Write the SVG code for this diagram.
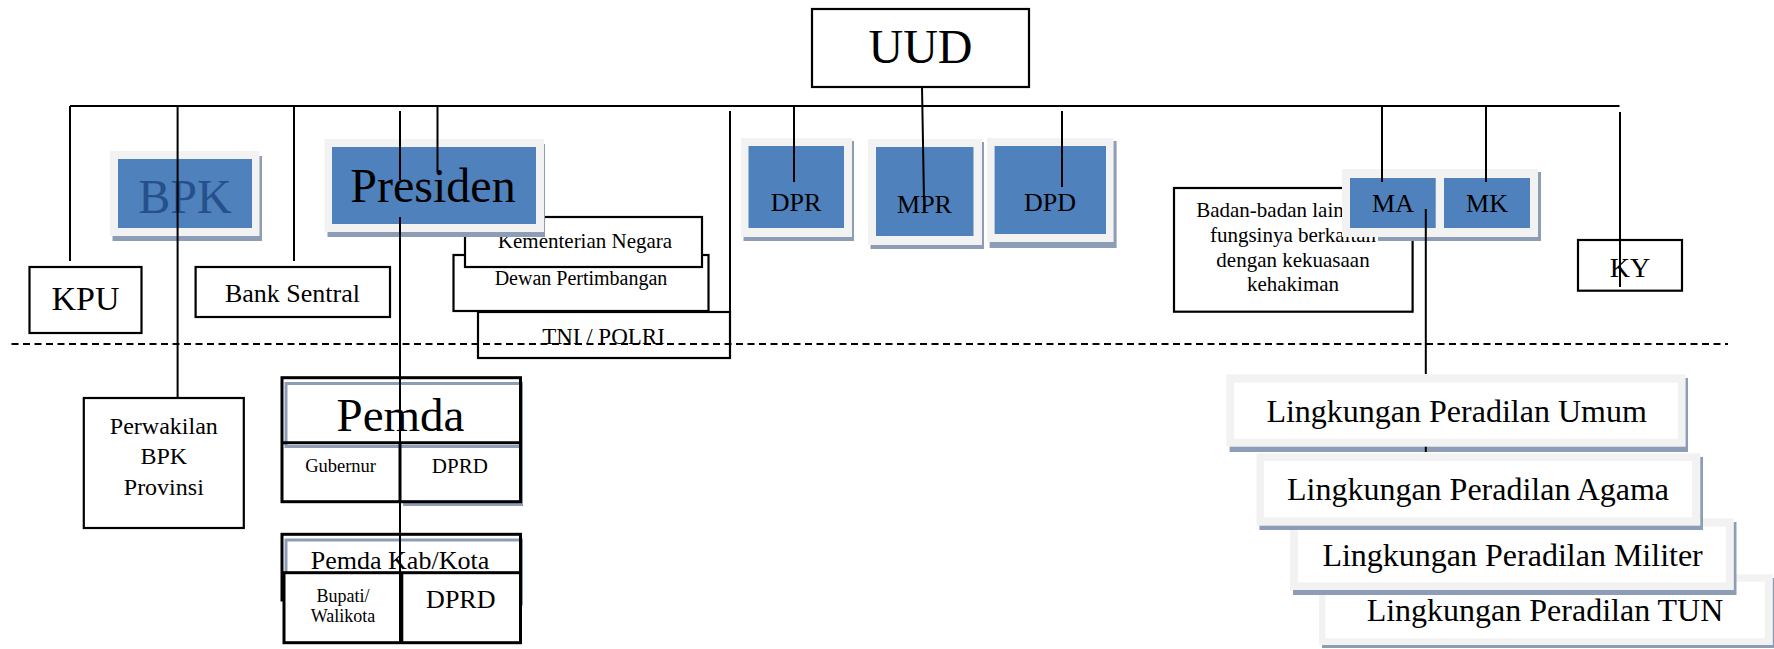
<svg xmlns="http://www.w3.org/2000/svg" width="1774" height="649" viewBox="0 0 1774 649">
<style>
  text { font-family: "Liberation Serif", "Times New Roman", serif; fill: #000; text-anchor: middle; }
  .box { fill: #fff; stroke: #000; stroke-width: 2.2; }
  .thick { fill: none; stroke: #000; stroke-width: 3; }
  .frame { fill: #f2f2f2; }
  .shadow { fill: #8d9db5; }
  .shline { fill: none; stroke: #8d9db5; stroke-width: 3; }
  .blue { fill: #4f81bd; }
  .inner { fill: #fff; }
  .ln { stroke: #000; stroke-width: 2; fill: none; }
  .dash { stroke: #000; stroke-width: 2; fill: none; stroke-dasharray: 7 4.5; }
</style>

<!-- constitution -->
<g id="uud">
  <rect class="box" x="812" y="9" width="217" height="78" stroke-width="2.6"/>
  <text x="920.5" y="63" font-size="48">UUD</text>
</g>

<g id="kpu">
  <rect class="box" x="29.5" y="267" width="112" height="66"/>
  <text x="85.5" y="310" font-size="34">KPU</text>
</g>

<g id="bank-sentral">
  <rect class="box" x="195.6" y="267" width="194.4" height="50"/>
  <text x="292.5" y="301.7" font-size="26">Bank Sentral</text>
</g>

<g id="bpk">
  <rect class="shadow" x="112.5" y="156" width="149.5" height="85"/>
  <rect class="frame" x="110" y="151" width="149.5" height="85"/>
  <rect class="blue" x="118" y="159" width="134" height="69"/>
  <text x="185" y="213" font-size="48" style="fill:#26508a">BPK</text>
</g>

<!-- bodies under the president -->
<g id="dewan-pertimbangan">
  <rect class="box" x="453.5" y="255" width="255" height="56"/>
  <text x="581" y="285" font-size="20">Dewan Pertimbangan</text>
</g>

<g id="kementerian-negara">
  <rect class="box" x="465" y="217" width="237" height="50"/>
  <text x="585" y="248" font-size="21">Kementerian Negara</text>
</g>

<g id="tni-polri">
  <rect class="box" x="478" y="312" width="252" height="46"/>
  <text x="603.5" y="344" font-size="23">TNI / POLRI</text>
</g>

<g id="presiden">
  <rect class="shadow" x="327.5" y="144" width="217.5" height="93"/>
  <rect class="frame" x="324.5" y="139" width="219.5" height="93"/>
  <rect class="blue" x="332" y="147" width="204" height="77"/>
  <text x="433" y="202" font-size="48">Presiden</text>
</g>

<g id="dpr">
  <rect class="shadow" x="743.5" y="141" width="110.5" height="100"/>
  <rect class="frame" x="741" y="138" width="111" height="99"/>
  <rect class="blue" x="748.5" y="146" width="95.5" height="82"/>
  <text x="796" y="211" font-size="26">DPR</text>
</g>

<g id="mpr">
  <rect class="shadow" x="870.5" y="142" width="113.5" height="107"/>
  <rect class="frame" x="868" y="139" width="114" height="106"/>
  <rect class="blue" x="876" y="147" width="97.5" height="89"/>
  <text x="924.5" y="213" font-size="26">MPR</text>
</g>

<g id="dpd">
  <rect class="shadow" x="989.6" y="141" width="127" height="107"/>
  <rect class="frame" x="987" y="138" width="126.6" height="104"/>
  <rect class="blue" x="994.6" y="146" width="111.4" height="88"/>
  <text x="1050" y="211" font-size="26">DPD</text>
</g>

<g id="badan-lain">
  <rect class="box" x="1174" y="188" width="238.6" height="123.7"/>
  <text x="1293" y="217" font-size="21">Badan-badan lain yang</text>
  <text x="1293" y="242" font-size="21">fungsinya berkaitan</text>
  <text x="1293" y="267" font-size="21">dengan kekuasaan</text>
  <text x="1293" y="291" font-size="21">kehakiman</text>
</g>

<g id="ma-mk">
  <rect class="shadow" x="1378" y="172" width="163" height="69"/>
  <rect class="frame" x="1342" y="169" width="196" height="68"/>
  <rect class="blue" x="1350" y="178" width="85.7" height="50"/>
  <rect class="blue" x="1444" y="178" width="86" height="50"/>
  <text x="1393" y="212" font-size="26">MA</text>
  <text x="1487" y="212" font-size="26">MK</text>
</g>

<g id="ky">
  <rect class="box" x="1578" y="240" width="104" height="50.7"/>
  <text x="1630" y="277" font-size="28">KY</text>
</g>

<!-- regional level -->
<g id="perwakilan-bpk">
  <rect class="box" x="83.8" y="398" width="160" height="130" stroke-width="2.6"/>
  <text x="163.8" y="434" font-size="24">Perwakilan</text>
  <text x="163.8" y="464.3" font-size="24">BPK</text>
  <text x="163.8" y="495" font-size="24">Provinsi</text>
</g>

<g id="pemda">
  <rect class="shadow" x="403" y="446" width="120" height="60"/>
  <rect class="inner" x="282" y="377.7" width="238.5" height="124"/>
  <rect class="shline" x="286" y="383.5" width="235.5" height="63"/>
  <rect class="thick" x="282" y="377.7" width="238.5" height="124"/>
  <line class="thick" x1="282" y1="442.7" x2="520.5" y2="442.7"/>
  <line class="thick" x1="400" y1="442.7" x2="400" y2="501.7"/>
  <text x="400.5" y="430.7" font-size="47">Pemda</text>
  <text x="340.6" y="471.7" font-size="18.5">Gubernur</text>
  <text x="459.8" y="473.3" font-size="21">DPRD</text>
</g>

<g id="pemda-kab-kota">
  <rect class="inner" x="282" y="534.3" width="238.5" height="65.7"/>
  <rect class="shline" x="286" y="540" width="235.5" height="64"/>
  <rect class="thick" x="282" y="534.3" width="238.5" height="65.7"/>
  <rect class="inner" x="284" y="572.7" width="236.5" height="70"/>
  <rect class="thick" x="284" y="572.7" width="236.5" height="70"/>
  <line class="thick" x1="401.8" y1="572.7" x2="401.8" y2="642.7"/>
  <text x="400" y="569.3" font-size="26">Pemda Kab/Kota</text>
  <text x="343" y="601.7" font-size="18">Bupati/</text>
  <text x="343" y="622.3" font-size="18">Walikota</text>
  <text x="460.8" y="608.3" font-size="26">DPRD</text>
</g>

<!-- courts below the Supreme Court, drawn back to front -->
<g id="peradilan-tun">
  <rect class="shadow" x="1322" y="578" width="453" height="70"/>
  <rect class="frame" x="1319" y="574.3" width="453.8" height="70.7"/>
  <rect class="inner" x="1325.5" y="581.7" width="439.3" height="56.6"/>
  <text x="1545" y="620.7" font-size="32">Lingkungan Peradilan TUN</text>
</g>

<g id="peradilan-militer">
  <rect class="shadow" x="1293" y="522" width="443.5" height="73"/>
  <rect class="frame" x="1290" y="518.3" width="443.8" height="71.7"/>
  <rect class="inner" x="1298" y="526.7" width="427.8" height="55.6"/>
  <text x="1512.6" y="565.7" font-size="32">Lingkungan Peradilan Militer</text>
</g>

<g id="peradilan-agama">
  <rect class="shadow" x="1259.4" y="457" width="443.6" height="73"/>
  <rect class="frame" x="1256.6" y="453.3" width="443.7" height="72.4"/>
  <rect class="inner" x="1264" y="461" width="428" height="56.3"/>
  <text x="1478" y="500" font-size="32">Lingkungan Peradilan Agama</text>
</g>

<g id="peradilan-umum">
  <rect class="shadow" x="1229.6" y="378" width="458.4" height="74"/>
  <rect class="frame" x="1226.4" y="374.3" width="459.2" height="72.4"/>
  <rect class="inner" x="1234" y="382.7" width="444" height="56"/>
  <text x="1456.6" y="421.7" font-size="32">Lingkungan Peradilan Umum</text>
</g>

<!-- connectors -->
<g id="connectors">
  <path class="ln" d="M70 106 H1619.5"/>
  <path class="ln" d="M922 87 L924 200"/>
  <path class="ln" d="M70 106 V261"/>
  <path class="ln" d="M177.6 106 V398"/>
  <path class="ln" d="M294 106 V261"/>
  <path class="ln" d="M400 111 V180 M400 217 V643"/>
  <path class="ln" d="M437.5 106 V172"/>
  <path class="ln" d="M730 111 V358"/>
  <path class="ln" d="M794 106 V182"/>
  <path class="ln" d="M1062 111 V187"/>
  <path class="ln" d="M1382 106 V182"/>
  <path class="ln" d="M1486 106 V182"/>
  <path class="ln" d="M1620 112 V287"/>
  <path class="ln" d="M1425.8 209 V374 M1425.8 446.7 V452"/>
  <path class="dash" d="M11.5 344 H1728"/>
</g>
</svg>
